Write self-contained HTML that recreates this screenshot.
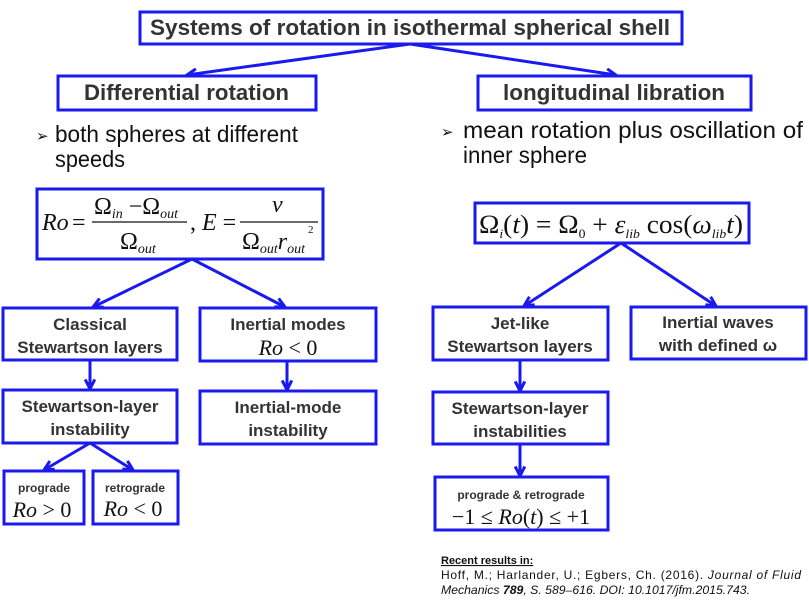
<!DOCTYPE html>
<html><head><meta charset="utf-8"><style>
body{margin:0;background:#fff;}
svg{display:block}
.b{font-family:"Liberation Sans",sans-serif;font-weight:bold;fill:#333}
.n{font-family:"Liberation Sans",sans-serif;fill:#111}
.m{font-family:"Liberation Serif",serif;fill:#111}
.i{font-style:italic}
rect{fill:#fff;stroke:#1a1aee;stroke-width:3}
.l{stroke:#1a1aee;stroke-width:3;fill:none}
</style></head><body>
<svg width="809" height="600" viewBox="0 0 809 600">
<defs><marker id="a" viewBox="0 0 10 10" refX="9" refY="5" markerWidth="4" markerHeight="4" orient="auto"><path d="M1,1 L9,5 L1,9" fill="none" stroke="#1a1aee" stroke-width="2.5"/></marker></defs>
<g class="l" marker-end="url(#a)">
<line x1="410" y1="44" x2="187" y2="75"/>
<line x1="410" y1="44" x2="616" y2="75"/>
<line x1="192" y1="259" x2="93" y2="307"/>
<line x1="192" y1="259" x2="285" y2="307"/>
<line x1="90" y1="360" x2="90" y2="389"/>
<line x1="287" y1="361" x2="287" y2="390"/>
<line x1="90" y1="443" x2="44" y2="470"/>
<line x1="90" y1="443" x2="133" y2="470"/>
<line x1="621" y1="243" x2="524" y2="306"/>
<line x1="621" y1="243" x2="716" y2="306"/>
<line x1="520" y1="360" x2="520" y2="391"/>
<line x1="520" y1="444" x2="520" y2="476"/>
</g>
<rect x="140" y="12" width="542" height="32"/>
<text class="b" x="150" y="35" font-size="22" textLength="520" lengthAdjust="spacingAndGlyphs">Systems of rotation in isothermal spherical shell</text>
<rect x="58" y="76" width="258" height="34"/>
<text class="b" x="84" y="100" font-size="22" textLength="205" lengthAdjust="spacingAndGlyphs">Differential rotation</text>
<rect x="478" y="76" width="273" height="34"/>
<text class="b" x="503" y="100" font-size="22" textLength="222" lengthAdjust="spacingAndGlyphs">longitudinal libration</text>

<text class="n" x="36" y="141" font-size="15">➢</text>
<text class="n" x="55" y="142" font-size="23" textLength="243" lengthAdjust="spacingAndGlyphs">both spheres at different</text>
<text class="n" x="55" y="167" font-size="23" textLength="70" lengthAdjust="spacingAndGlyphs">speeds</text>
<text class="n" x="441" y="137" font-size="15">➢</text>
<text class="n" x="463" y="138" font-size="23" textLength="340" lengthAdjust="spacingAndGlyphs">mean rotation plus oscillation of</text>
<text class="n" x="463" y="163" font-size="23" textLength="124" lengthAdjust="spacingAndGlyphs">inner sphere</text>

<rect x="37" y="189" width="286" height="70"/>
<g class="m" font-size="24">
<text x="42" y="230" class="i">Ro</text>
<text x="72" y="230">=</text>
<text x="94" y="214">Ω<tspan class="i" font-size="14" dy="4">in</tspan><tspan dy="-4"> −Ω</tspan><tspan class="i" font-size="14" dy="4">out</tspan></text>
<line x1="92" y1="222" x2="187" y2="222" stroke="#111" stroke-width="1.3"/>
<text x="120" y="249">Ω<tspan class="i" font-size="14" dy="4">out</tspan></text>
<text x="190" y="230">, <tspan class="i">E</tspan> =</text>
<text x="272" y="212" class="i">ν</text>
<line x1="240" y1="222" x2="318" y2="222" stroke="#111" stroke-width="1.3"/>
<text x="242" y="249">Ω<tspan class="i" font-size="14" dy="4">out</tspan><tspan class="i" dy="-4">r</tspan><tspan class="i" font-size="14" dy="4">out</tspan></text>
<text x="308" y="233" font-size="11">2</text>
</g>

<rect x="3" y="308" width="174" height="52"/>
<text class="b" x="90" y="330" font-size="17" text-anchor="middle">Classical</text>
<text class="b" x="90" y="353" font-size="17" text-anchor="middle">Stewartson layers</text>
<rect x="200" y="308" width="176" height="53"/>
<text class="b" x="288" y="330" font-size="17" text-anchor="middle">Inertial modes</text>
<text class="m" x="288" y="355" font-size="22" text-anchor="middle"><tspan class="i">Ro</tspan> &lt; 0</text>

<rect x="3" y="390" width="174" height="53"/>
<text class="b" x="90" y="412" font-size="17" text-anchor="middle">Stewartson-layer</text>
<text class="b" x="90" y="435" font-size="17" text-anchor="middle">instability</text>
<rect x="200" y="391" width="176" height="53"/>
<text class="b" x="288" y="413" font-size="17" text-anchor="middle">Inertial-mode</text>
<text class="b" x="288" y="436" font-size="17" text-anchor="middle">instability</text>

<rect x="4" y="471" width="80" height="53"/>
<text class="b" x="44" y="492" font-size="12" text-anchor="middle">prograde</text>
<text class="m" x="42" y="517" font-size="22" text-anchor="middle"><tspan class="i">Ro</tspan> &gt; 0</text>
<rect x="93" y="471" width="85" height="53"/>
<text class="b" x="135" y="492" font-size="12" text-anchor="middle">retrograde</text>
<text class="m" x="133" y="516" font-size="22" text-anchor="middle"><tspan class="i">Ro</tspan> &lt; 0</text>

<rect x="475" y="203" width="274" height="40"/>
<text class="m" x="479" y="233" font-size="26" textLength="264" lengthAdjust="spacingAndGlyphs">Ω<tspan class="i" font-size="13" dy="5">i</tspan><tspan dy="-5">(</tspan><tspan class="i">t</tspan>) = Ω<tspan font-size="13" dy="5">0</tspan><tspan dy="-5"> + </tspan><tspan class="i">ε</tspan><tspan class="i" font-size="13" dy="5">lib</tspan><tspan dy="-5"> cos(</tspan><tspan class="i">ω</tspan><tspan class="i" font-size="13" dy="5">lib</tspan><tspan class="i" dy="-5">t</tspan>)</text>

<rect x="433" y="307" width="175" height="53"/>
<text class="b" x="520" y="329" font-size="17" text-anchor="middle">Jet-like</text>
<text class="b" x="520" y="352" font-size="17" text-anchor="middle">Stewartson layers</text>
<rect x="631" y="307" width="175" height="52"/>
<text class="b" x="718" y="328" font-size="17" text-anchor="middle">Inertial waves</text>
<text class="b" x="718" y="351" font-size="17" text-anchor="middle">with defined ω</text>

<rect x="433" y="392" width="175" height="52"/>
<text class="b" x="520" y="414" font-size="17" text-anchor="middle">Stewartson-layer</text>
<text class="b" x="520" y="437" font-size="17" text-anchor="middle">instabilities</text>

<rect x="435" y="477" width="173" height="53"/>
<text class="b" x="521" y="499" font-size="12" text-anchor="middle">prograde &amp; retrograde</text>
<text class="m" x="521" y="524" font-size="22" text-anchor="middle">−1 ≤ <tspan class="i">Ro</tspan>(<tspan class="i">t</tspan>) ≤ +1</text>

<text class="n" x="441" y="564" font-size="11" font-weight="bold" text-decoration="underline">Recent results in:</text>
<text class="n" x="441" y="579" font-size="12" textLength="360" lengthAdjust="spacing">Hoff, M.; Harlander, U.; Egbers, Ch. (2016). <tspan font-style="italic">Journal of Fluid</tspan></text>
<text class="n" x="441" y="594" font-size="12" font-style="italic" textLength="309" lengthAdjust="spacingAndGlyphs">Mechanics <tspan font-weight="bold">789</tspan>, S. 589–616. DOI: 10.1017/jfm.2015.743.</text>
</svg>
</body></html>
